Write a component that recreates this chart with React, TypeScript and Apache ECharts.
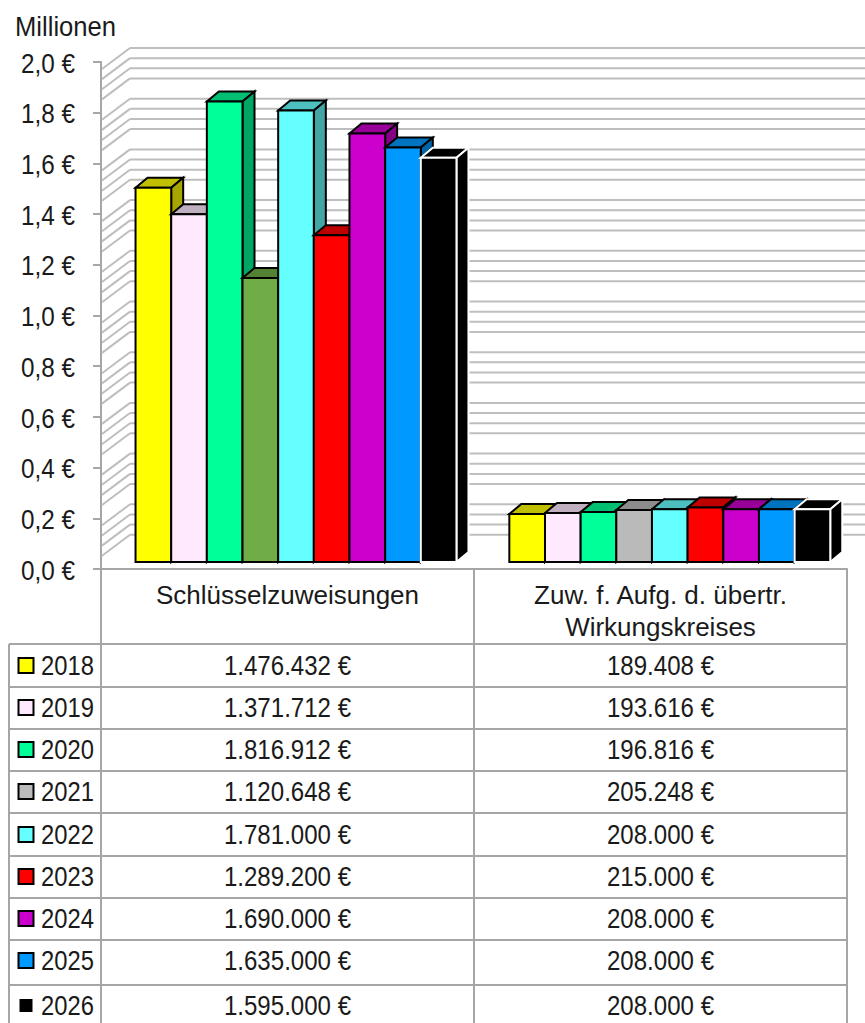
import React, { useEffect, useRef } from "react";
import * as echarts from "echarts";

const years = ["2018", "2019", "2020", "2021", "2022", "2023", "2024", "2025", "2026"];
const categories = ["Schlüsselzuweisungen", "Zuw. f. Aufg. d. übertr.\nWirkungskreises"];
const schluessel = [1476432, 1371712, 1816912, 1120648, 1781000, 1289200, 1690000, 1635000, 1595000];
const zuweisungen = [189408, 193616, 196816, 205248, 208000, 215000, 208000, 208000, 208000];
const yearColors = ["#FFFF00", "#FFE9FF", "#00FF99", "#BABABA", "#66FFFF", "#FF0000", "#CC00CC", "#0099FF", "#000000"];
const firstGroupColors = ["#FFFF00", "#FFE9FF", "#00FF99", "#70AD47", "#66FFFF", "#FF0000", "#CC00CC", "#0099FF", "#000000"];
const yTicks = [0, 0.2, 0.4, 0.6, 0.8, 1.0, 1.2, 1.4, 1.6, 1.8, 2.0];
const wallLines = [
  2.0, 1.96, 1.92, 1.88, 1.8, 1.76, 1.72, 1.68, 1.6, 1.56, 1.52, 1.48, 1.4, 1.36, 1.32, 1.28, 1.2, 1.16, 1.12, 1.08,
  1.0, 0.96, 0.92, 0.88, 0.8, 0.76, 0.72, 0.68, 0.6, 0.56, 0.52, 0.48, 0.4, 0.36, 0.32, 0.28, 0.2, 0.16, 0.12, 0.08,
];

const FONT = "Liberation Sans";
const FS = 28;
const TXT = "#1a1a1a";
const GRID = "#A6A6A6";
const rowTops = [644, 687, 729, 771, 813, 856, 898, 940, 985];
const rowCenters = [666, 708, 750, 792, 835, 877, 919, 961, 1006];

const euro = (n: number) => n.toString().replace(/\B(?=(\d{3})+$)/g, ".") + " €";

function shade(hex: string, f: number) {
  const n = parseInt(hex.slice(1), 16);
  const c = (s: number) => Math.round(((n >> s) & 255) * f);
  return `rgb(${c(16)},${c(8)},${c(0)})`;
}

function barRender(s: number) {
  return (params: any, api: any) => {
    const cat = api.value(0);
    const v = api.value(1);
    const band = api.size([1, 0])[0];
    const w = band * 0.0956;
    const [cx] = api.coord([cat, 0]);
    const base = api.coord([cat, 0])[1] - 7;
    const top = api.coord([cat, v])[1] - 7;
    const x0 = cx + 8.5 + cat * 0.8 - 4.5 * w + s * w;
    const x1 = x0 + w;
    const dx = 12;
    const dy = 10;
    const fill = (cat === 0 ? firstGroupColors : yearColors)[s];
    const stroke = s === 8 ? "#ffffff" : "#000000";
    const common = { stroke, lineWidth: 2, lineJoin: "miter" };
    return {
      type: "group",
      children: [
        {
          type: "polygon",
          shape: { points: [[x0, top], [x0 + dx, top - dy], [x1 + dx, top - dy], [x1, top]] },
          style: { ...common, fill: shade(fill, 0.75) },
        },
        {
          type: "polygon",
          shape: { points: [[x1, top], [x1 + dx, top - dy], [x1 + dx, base - dy], [x1, base]] },
          style: { ...common, fill: shade(fill, 0.65) },
        },
        {
          type: "rect",
          shape: { x: x0, y: top, width: w, height: base - top },
          style: { ...common, fill },
        },
      ],
    };
  };
}

function wallRender(params: any, api: any) {
  const v = api.value(0);
  const cs = params.coordSys;
  const y = api.coord([0, v])[1];
  const x = cs.x;
  const style = { stroke: "#BEBEBE", lineWidth: 2, fill: "none" };
  return {
    type: "group",
    children: [
      { type: "line", shape: { x1: x + 1, y1: y + 7, x2: x + 29, y2: y - 14 }, style },
      { type: "line", shape: { x1: x + 29, y1: y - 14, x2: 865, y2: y - 14 }, style },
    ],
  };
}

function tickLabelRender(params: any, api: any) {
  const v = api.value(0);
  return {
    type: "text",
    x: 75,
    y: api.coord([0, v])[1] + 1,
    scaleX: 0.867,
    style: {
      text: v.toFixed(1).replace(".", ",") + " €",
      fill: TXT,
      font: `${FS}px "${FONT}"`,
      textAlign: "right",
      textVerticalAlign: "middle",
    },
  };
}

const hLine = (x1: number, x2: number, y: number) => ({
  type: "line",
  shape: { x1, y1: y, x2, y2: y },
  style: { stroke: GRID, lineWidth: 2 },
  silent: true,
});
const vLine = (x: number, y1: number, y2: number) => ({
  type: "line",
  shape: { x1: x, y1, x2: x, y2 },
  style: { stroke: GRID, lineWidth: 2 },
  silent: true,
});
const cellText = (text: string, x: number, y: number, scaleX: number, align = "center") => ({
  type: "text",
  x,
  y,
  scaleX,
  style: { text, fill: TXT, font: `${FS}px "${FONT}"`, textAlign: align, textVerticalAlign: "middle" },
  silent: true,
});

export default function App() {
  const ref = useRef<HTMLDivElement>(null);
  useEffect(() => {
    const chart = echarts.init(ref.current!, undefined, { renderer: "svg" });
    const graphics: any[] = [
      cellText("Millionen", 15, 27, 0.915, "left"),
      vLine(101, 569, 1023),
      vLine(474, 569, 1023),
      vLine(847, 569, 1023),
      vLine(9, 644, 1023),
      ...rowTops.map((y) => hLine(9, 847, y)),
    ];
    years.forEach((yr, i) => {
      const cy = rowCenters[i] - 1;
      graphics.push({
        type: "rect",
        shape: { x: 18.5, y: cy - 7, width: 15, height: 15 },
        style: { fill: yearColors[i], stroke: i === 8 ? "#fff" : "#000", lineWidth: 2 },
        silent: true,
      });
      graphics.push(cellText(yr, 41, cy, 0.85, "left"));
      graphics.push(cellText(euro(schluessel[i]), 287.5, cy, 0.86));
      graphics.push(cellText(euro(zuweisungen[i]), 660.5, cy, 0.86));
    });
    chart.setOption({
      animation: false,
      backgroundColor: "#ffffff",
      grid: { left: 101, top: 62, width: 746, height: 507, containLabel: false },
      xAxis: {
        type: "category",
        data: categories,
        axisLine: { lineStyle: { color: GRID, width: 2 } },
        axisTick: { show: false },
        axisLabel: {
          interval: 0,
          margin: 10,
          color: TXT,
          fontFamily: FONT,
          fontSize: 26,
          lineHeight: 32,
          verticalAlign: "top",
        },
      },
      yAxis: {
        type: "value",
        min: 0,
        max: 2,
        interval: 0.2,
        splitLine: { show: false },
        axisLine: { show: true, lineStyle: { color: GRID, width: 2 } },
        axisTick: { show: true, length: 8, lineStyle: { color: GRID, width: 2 } },
        axisLabel: { show: false },
      },
      series: [
        {
          type: "custom",
          name: "Wand",
          clip: false,
          z: 1,
          silent: true,
          encode: { y: 0 },
          data: wallLines.map((v) => [v]),
          renderItem: wallRender,
        },
        {
          type: "custom",
          name: "Achse",
          clip: false,
          z: 1,
          silent: true,
          encode: { y: 0 },
          data: yTicks.map((v) => [v]),
          renderItem: tickLabelRender,
        },
        ...years.map((yr, s) => ({
          type: "custom",
          name: yr,
          clip: false,
          z: 2 + s,
          silent: true,
          encode: { x: 0, y: 1 },
          data: [
            [0, schluessel[s] / 1e6],
            [1, zuweisungen[s] / 1e6],
          ],
          renderItem: barRender(s),
        })),
      ],
      graphic: { elements: graphics },
    });
    return () => chart.dispose();
  }, []);
  return <div ref={ref} style={{ position: "absolute", left: 0, top: 0, width: 865, height: 1023 }} />;
}
